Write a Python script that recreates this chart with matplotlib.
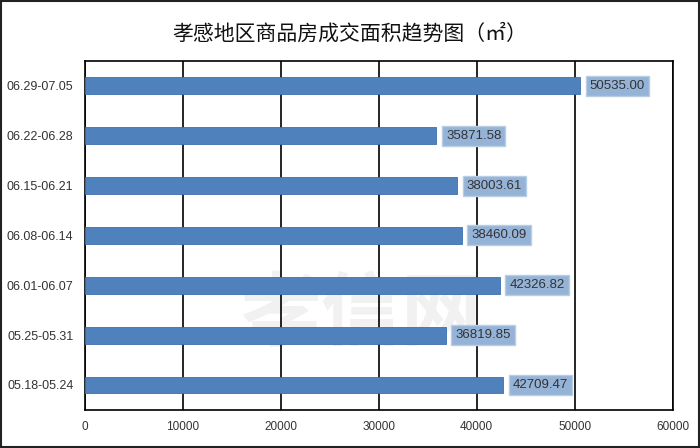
import matplotlib
matplotlib.use("Agg")
import matplotlib.pyplot as plt
from matplotlib.patches import Rectangle

plt.rcParams['font.family'] = ['Noto Sans CJK SC', 'DejaVu Sans']

weeks = ["05.18-05.24", "05.25-05.31", "06.01-06.07", "06.08-06.14",
         "06.15-06.21", "06.22-06.28", "06.29-07.05"]
areas = [42709.47, 36819.85, 42326.82, 38460.09, 38003.61, 35871.58, 50535.00]
xticks = [0, 10000, 20000, 30000, 40000, 50000, 60000]

fig = plt.figure(figsize=(7, 4.48), dpi=100)
ax = fig.add_axes([0.121, 0.085, 0.84, 0.779])

# outer frame
fig.patches.append(Rectangle((0.002, 0.002), 0.996, 0.996, transform=fig.transFigure,
                             fill=False, edgecolor='#222222', linewidth=1.5))

# watermark, behind everything in the plot area
ax.text(0.47, 0.27, "孝信网", transform=ax.transAxes, fontsize=58, color='#f1f1f1',
        ha='center', va='center', fontweight='bold', zorder=0.5)

lab_font = ['Liberation Sans', 'DejaVu Sans']
ypos = list(range(len(weeks)))
ax.barh(ypos, areas, height=0.34, color='#4f81bd', edgecolor='#3e6fae', linewidth=0.6, zorder=3)
for y, v in zip(ypos, areas):
    ax.text(v + 1000, y, "%.2f" % v, va='center', ha='left', fontsize=9.5, color='#333333',
            family=lab_font,
            bbox=dict(boxstyle='square,pad=0.3', facecolor='#95b3d7', edgecolor='#b9cde5',
                      linewidth=1), zorder=4)

ax.set_xlim(0, 60000)
ax.set_ylim(-0.5, 6.5)
ax.set_xticks(xticks)
ax.set_xticklabels([str(t) for t in xticks], fontsize=8.5, color='#333333', family=lab_font)
ax.set_yticks(ypos)
ax.set_yticklabels(weeks, fontsize=9, color='#333333', family=lab_font)
ax.tick_params(axis='both', length=0)
ax.tick_params(axis='x', pad=8)
ax.tick_params(axis='y', pad=8)
ax.grid(axis='x', color='black', linewidth=1.2, zorder=1)
for s in ax.spines.values():
    s.set_color('black')
    s.set_linewidth(1.2)
ax.set_facecolor('none')

fig.text(0.5, 0.925, "孝感地区商品房成交面积趋势图（㎡）", ha='center', va='center',
         fontsize=15, color='#111111')

fig.savefig("out.png", dpi=100)
